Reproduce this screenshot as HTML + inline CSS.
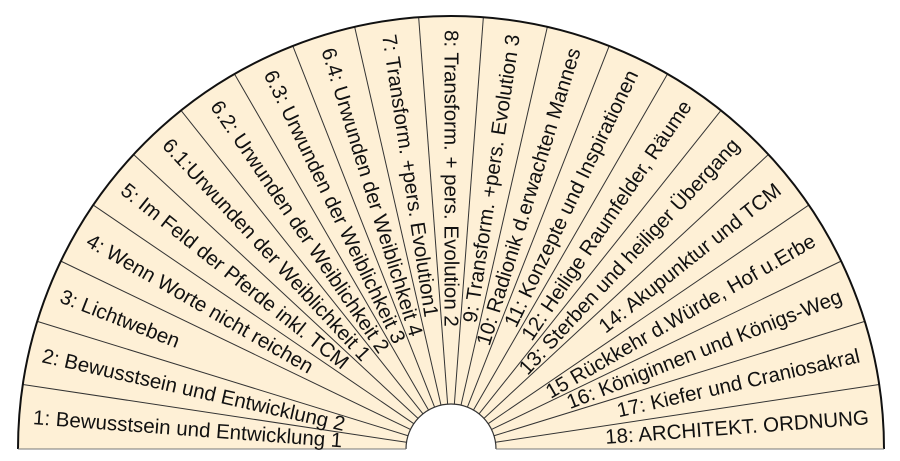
<!DOCTYPE html>
<html><head><meta charset="utf-8"><style>
html,body{margin:0;padding:0;background:#fff;width:900px;height:461px;overflow:hidden}
svg{display:block}
text{font-family:"Liberation Sans",Arial,sans-serif;font-size:20.5px;fill:#111;dominant-baseline:central}
</style></head><body>
<svg width="900" height="461" viewBox="0 0 900 461" xmlns="http://www.w3.org/2000/svg">
<path d="M18 449 A433 433 0 0 1 884 449 L496 449 A45 45 0 0 0 406 449 Z" fill="#fef0d6" stroke="none"/>
<g stroke="#333" stroke-width="1">
<line x1="18" y1="449" x2="406" y2="449" transform="rotate(8.5714 451 449)"/>
<line x1="18" y1="449" x2="406" y2="449" transform="rotate(17.1429 451 449)"/>
<line x1="18" y1="449" x2="406" y2="449" transform="rotate(25.7143 451 449)"/>
<line x1="18" y1="449" x2="406" y2="449" transform="rotate(34.2857 451 449)"/>
<line x1="18" y1="449" x2="406" y2="449" transform="rotate(42.8571 451 449)"/>
<line x1="18" y1="449" x2="406" y2="449" transform="rotate(51.4286 451 449)"/>
<line x1="18" y1="449" x2="406" y2="449" transform="rotate(60 451 449)"/>
<line x1="18" y1="449" x2="406" y2="449" transform="rotate(68.5714 451 449)"/>
<line x1="18" y1="449" x2="406" y2="449" transform="rotate(77.1429 451 449)"/>
<line x1="18" y1="449" x2="406" y2="449" transform="rotate(85.7143 451 449)"/>
<line x1="18" y1="449" x2="406" y2="449" transform="rotate(94.2857 451 449)"/>
<line x1="18" y1="449" x2="406" y2="449" transform="rotate(102.8571 451 449)"/>
<line x1="18" y1="449" x2="406" y2="449" transform="rotate(111.4286 451 449)"/>
<line x1="18" y1="449" x2="406" y2="449" transform="rotate(120 451 449)"/>
<line x1="18" y1="449" x2="406" y2="449" transform="rotate(128.5714 451 449)"/>
<line x1="18" y1="449" x2="406" y2="449" transform="rotate(137.1429 451 449)"/>
<line x1="18" y1="449" x2="406" y2="449" transform="rotate(145.7143 451 449)"/>
<line x1="18" y1="449" x2="406" y2="449" transform="rotate(154.2857 451 449)"/>
<line x1="18" y1="449" x2="406" y2="449" transform="rotate(162.8571 451 449)"/>
<line x1="18" y1="449" x2="406" y2="449" transform="rotate(171.4286 451 449)"/>
</g>
<path d="M18 449 A433 433 0 0 1 884 449" fill="none" stroke="#111" stroke-width="2"/>
<path d="M496 449 A45 45 0 0 0 406 449" fill="#fff" stroke="#333" stroke-width="1.2"/>
<line x1="18" y1="449" x2="406" y2="449" stroke="#777" stroke-width="1"/>
<line x1="496" y1="449" x2="884" y2="449" stroke="#777" stroke-width="1"/>

<g text-anchor="start">
<text x="32" y="449" transform="rotate(4.2857 451 449)">1: Bewusstsein und Entwicklung 1</text>
<text x="32" y="449" transform="rotate(12.8571 451 449)">2: Bewusstsein und Entwicklung 2</text>
<text x="32" y="449" transform="rotate(21.4286 451 449)">3: Lichtweben</text>
<text x="32" y="449" transform="rotate(30 451 449)">4: Wenn Worte nicht reichen</text>
<text x="32" y="449" transform="rotate(38.5714 451 449)">5: Im Feld der Pferde inkl. TCM</text>
<text x="32" y="449" transform="rotate(47.1429 451 449)">6.1:Urwunden der Weiblichkeit 1</text>
<text x="32" y="449" transform="rotate(55.7143 451 449)">6.2: Urwunden der Weiblichkeit 2</text>
<text x="32" y="449" transform="rotate(64.2857 451 449)">6.3: Urwunden der Weiblichkeit 3</text>
<text x="32" y="449" transform="rotate(72.8571 451 449)">6.4: Urwunden der Weiblichkeit 4</text>
<text x="32" y="449" transform="rotate(81.4286 451 449)">7: Transform. +pers. Evolution1</text>
<text x="32" y="449" transform="rotate(90 451 449)">8: Transform. + pers. Evolution 2</text>
</g>
<g text-anchor="end">
<text x="870" y="449" transform="rotate(-81.4286 451 449)">9: Transform. +pers. Evolution 3</text>
<text x="870" y="449" transform="rotate(-72.8571 451 449)">10: Radionik d.erwachten Mannes</text>
<text x="870" y="449" transform="rotate(-64.2857 451 449)">11: Konzepte und Inspirationen</text>
<text x="870" y="449" transform="rotate(-55.7143 451 449)">12: Heilige Raumfelder, Räume</text>
<text x="870" y="449" transform="rotate(-47.1429 451 449)">13: Sterben und heiliger Übergang</text>
<text x="870" y="449" transform="rotate(-38.5714 451 449)">14: Akupunktur und TCM</text>
<text x="870" y="449" transform="rotate(-30 451 449)">15 Rückkehr d.Würde, Hof u.Erbe</text>
<text x="870" y="449" transform="rotate(-21.4286 451 449)">16: Königinnen und Königs-Weg</text>
<text x="870" y="449" transform="rotate(-12.8571 451 449)">17: Kiefer und Craniosakral</text>
<text x="870" y="449" transform="rotate(-4.2857 451 449)">18: ARCHITEKT. ORDNUNG</text>
</g>
</svg>
</body></html>
